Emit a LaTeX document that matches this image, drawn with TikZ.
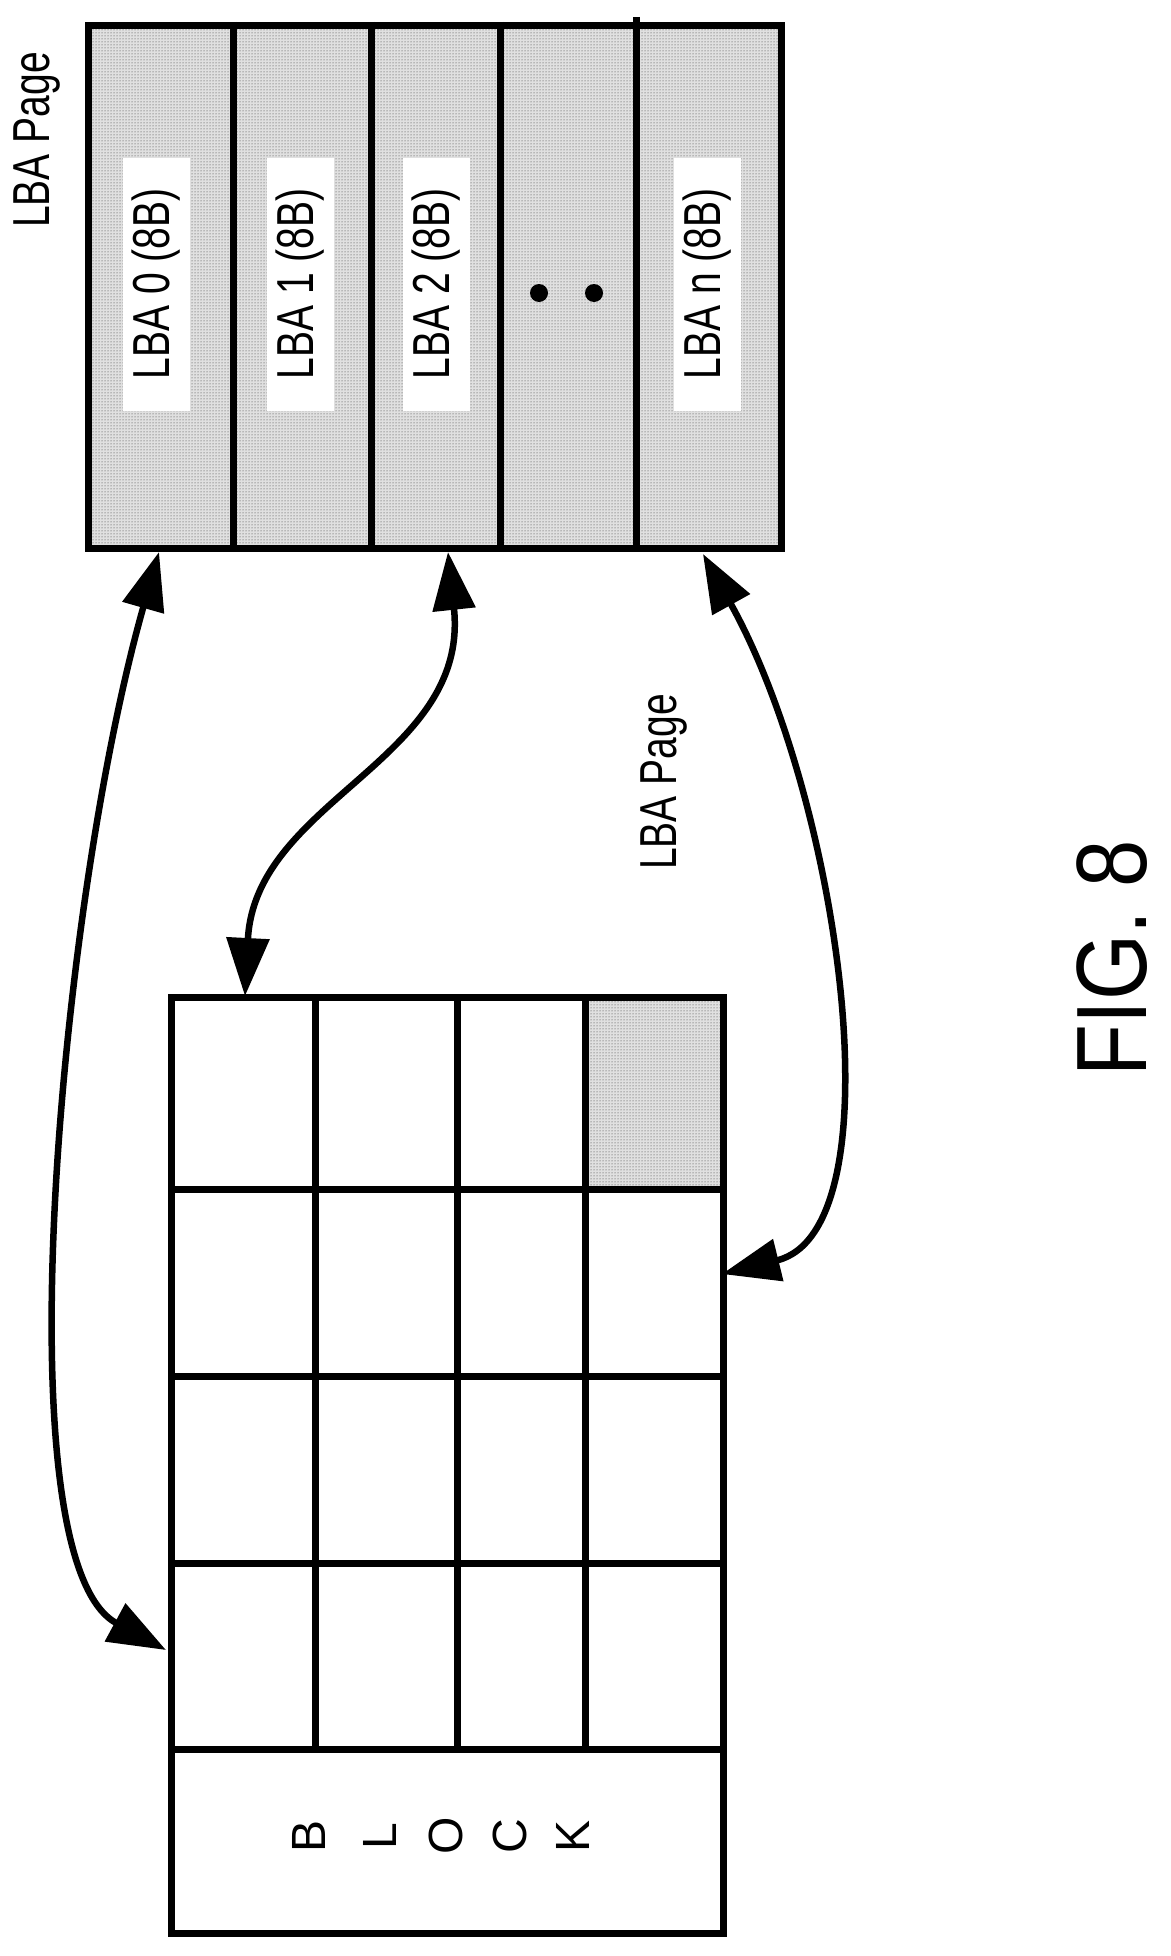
\documentclass[tikz,border=0pt]{standalone}
\usepackage{fontspec}
\setmainfont{Liberation Sans}
\usetikzlibrary{arrows.meta,patterns}
\begin{document}
\begin{tikzpicture}[x=1pt,y=-1pt,
  box/.style={line width=7pt},
  dotfill/.style={fill=black!12,postaction={pattern=dots,pattern color=black!80}},
  lbl/.style={fill=white,rotate=90,font=\fontsize{52}{54}\selectfont,inner sep=0pt,minimum width=253pt,minimum height=67pt},
  sq/.style={font=\fontsize{52}{54}\selectfont},
  arr/.style={line width=6.5pt,{Triangle[length=58pt,width=42pt]}-{Triangle[length=58pt,width=42pt]}},
  dot/.style={circle,fill=black,inner sep=0pt,minimum size=18pt}]
\useasboundingbox (0,0) rectangle (1170,1956);
% top LBA page
\path[dotfill] (85,22) rectangle (778,545);
\node[box,draw,minimum width=693pt,minimum height=523pt,anchor=north west,inner sep=0pt] (page) at (85,22) {};
\foreach \x in {233,371,500} \draw[box] (\x,22) -- (\x,545);
\draw[box] (636,17) -- (636,545);
\node[lbl] (l0) at (156,284) {\scalebox{0.75}[1]{LBA 0 (8B)}};
\node[lbl] (l1) at (300,284) {\scalebox{0.75}[1]{LBA 1 (8B)}};
\node[lbl] (l2) at (436,284) {\scalebox{0.75}[1]{LBA 2 (8B)}};
\node[dot] (d1) at (539,293) {};
\node[dot] (d2) at (594,293) {};
\node[lbl] (ln) at (707,284) {\scalebox{0.75}[1]{LBA n (8B)}};
\node[rotate=90,sq] (t1) at (37,140) {\scalebox{0.75}[1]{LBA Page}};
\node[rotate=90,sq] (t2) at (664,782) {\scalebox{0.75}[1]{LBA Page}};
% block grid
\path[dotfill] (585,994) rectangle (720,1189);
\foreach \x in {315,457,585} \draw[box] (\x,994) -- (\x,1749);
\foreach \y in {1189,1376,1563,1749} \draw[box] (168,\y) -- (720,\y);
\node[box,draw,minimum width=552pt,minimum height=936pt,anchor=north west,inner sep=0pt] (grid) at (168,994) {};
\foreach \c/\x in {B/309,L/380,O/446,C/510,K/573}
  \node[rotate=90,font=\fontsize{48}{50}\selectfont] (blk\c) at (\x,1836) {\c};
\coordinate (g1) at (166,1650);
\coordinate (g2) at (245,996);
\coordinate (g3) at (722,1274);
\coordinate (p0) at (159,552);
\coordinate (p2) at (448,552);
\coordinate (pn) at (703,554);
\draw[arr] (p0) .. controls (60,900) and (0,1560) .. (g1);
\draw[arr] (p2) .. controls (470,760) and (255,800) .. (g2);
\draw[arr] (pn) .. controls (840,800) and (900,1230) .. (g3);
\node[rotate=90,font=\fontsize{100}{100}\selectfont] (fig) at (1112,958) {\scalebox{0.85}[1]{FIG. 8}};
\end{tikzpicture}
\end{document}
